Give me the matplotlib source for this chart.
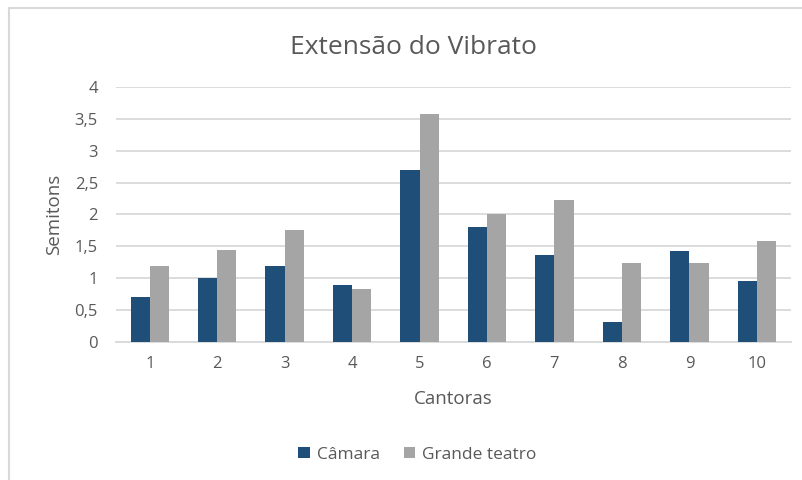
import matplotlib
matplotlib.use("Agg")
import matplotlib.pyplot as plt
import numpy as np
from matplotlib.lines import Line2D

categories = ["1", "2", "3", "4", "5", "6", "7", "8", "9", "10"]
camara = [0.71, 1.00, 1.19, 0.90, 2.70, 1.81, 1.37, 0.31, 1.43, 0.95]
grande_teatro = [1.19, 1.44, 1.76, 0.83, 3.57, 2.00, 2.22, 1.24, 1.24, 1.58]
yticks = [0, 0.5, 1, 1.5, 2, 2.5, 3, 3.5, 4]
ytick_labels = ["0", "0,5", "1", "1,5", "2", "2,5", "3", "3,5", "4"]

plt.rcParams['font.family'] = ['Open Sans', 'DejaVu Sans']
txt = "#595959"

fig = plt.figure(figsize=(8.03, 4.80), dpi=100)
ax = fig.add_axes([0.1445, 0.2875, 0.84, 0.5315])

x = np.arange(len(categories))
w = 0.285
ax.bar(x - w/2, camara, w, color="#1F4E79", label="Câmara", zorder=3)
ax.bar(x + w/2, grande_teatro, w, color="#A5A5A5", label="Grande teatro", zorder=3)

ax.set_xlim(-0.5, len(categories) - 0.5)
ax.set_ylim(0, 4)
ax.set_yticks(yticks)
ax.set_yticklabels(ytick_labels)
ax.set_xticks(x)
ax.set_xticklabels(categories)
ax.yaxis.grid(True, color="#D9D9D9", linewidth=1.3, zorder=0)
ax.set_axisbelow(True)
for s in ["top", "right", "left"]:
    ax.spines[s].set_visible(False)
ax.spines["bottom"].set_color("#D9D9D9")
ax.spines["bottom"].set_linewidth(1.3)
ax.tick_params(axis="both", length=0, colors=txt, labelsize=12)
ax.tick_params(axis="x", pad=10)
ax.tick_params(axis="y", pad=13)

ax.set_xlabel("Cantoras", color=txt, fontsize=13.5, labelpad=13)
ax.set_ylabel("Semitons", color=txt, fontsize=13.5, labelpad=8)
fig.text(0.515, 0.902, "Extensão do Vibrato", ha="center", va="center", color=txt, fontsize=19)

leg = fig.legend(loc="center", bbox_to_anchor=(0.52, 0.053), ncol=2, frameon=False,
                 fontsize=12.5, handlelength=0.65, handleheight=0.65, columnspacing=1.4, handletextpad=0.4)
for t in leg.get_texts():
    t.set_color(txt)

fig.add_artist(Line2D([9/803, 1.0], [1 - 8/480, 1 - 8/480], transform=fig.transFigure,
                      color="#D9D9D9", linewidth=1.5))
fig.add_artist(Line2D([9/803, 9/803], [0.0, 1 - 8/480], transform=fig.transFigure,
                      color="#D9D9D9", linewidth=1.5))

fig.savefig("out.png", dpi=100)
